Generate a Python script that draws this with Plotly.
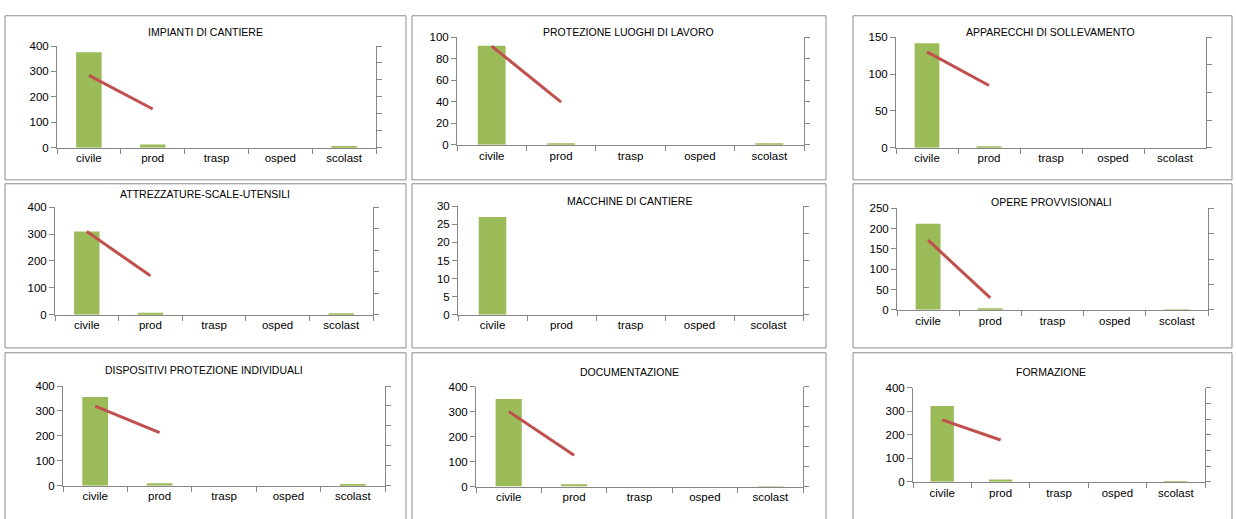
import plotly.graph_objects as go

W, H = 1236, 519

categories = ["civile", "prod", "trasp", "osped", "scolast"]

titles = [
    "IMPIANTI DI CANTIERE",
    "PROTEZIONE LUOGHI DI LAVORO",
    "APPARECCHI DI SOLLEVAMENTO",
    "ATTREZZATURE-SCALE-UTENSILI",
    "MACCHINE DI CANTIERE",
    "OPERE PROVVISIONALI",
    "DISPOSITIVI PROTEZIONE INDIVIDUALI",
    "DOCUMENTAZIONE",
    "FORMAZIONE",
]

# bar values (primary axis)
impianti = [376, 12, 0, 0, 3]
protezione = [92, 1, 0, 0, 1]
apparecchi = [142, 2, 0, 0, 0]
attrezzature = [310, 7, 0, 0, 3]
macchine = [27, 0, 0, 0, 0]
opere = [212, 3, 0, 0, 1]
dispositivi = [356, 10, 0, 0, 4]
documentazione = [352, 10, 0, 0, 2]
formazione = [323, 10, 0, 0, 2]

# red line values (secondary axis, unlabeled)
line_impianti = [4.27, 2.28]
line_protezione = [4.59, 1.98]
line_apparecchi = [3.47, 2.25]
line_attrezzature = [3.87, 1.81]
line_macchine = [None, None]
line_opere = [2.74, 0.47]
line_dispositivi = [3.99, 2.66]
line_documentazione = [3.77, 1.57]
line_formazione = [3.96, 2.67]

bars = [impianti, protezione, apparecchi, attrezzature, macchine,
        opere, dispositivi, documentazione, formazione]
lines = [line_impianti, line_protezione, line_apparecchi, line_attrezzature,
         line_macchine, line_opere, line_dispositivi, line_documentazione,
         line_formazione]

# primary axis max / step, secondary axis number of intervals
y_max = [400, 100, 150, 400, 30, 250, 400, 400, 400]
y_step = [100, 20, 50, 100, 5, 50, 100, 100, 100]
y2_max = [6, 5, 4, 5, 4, 4, 5, 5, 6]

# layout geometry in pixels: plot area (x0, x1, ytop, ybottom), box, title
plot_px = [
    (57, 376, 41, 145), (457, 804, 32, 142), (896, 1206, 32, 145),
    (55, 373, 206, 316), (458, 803, 205, 316), (897, 1208, 207, 311),
    (63, 385, 389, 491), (476, 803, 390, 492), (913, 1205, 391, 487),
]
box_px = [
    (5, 406, 10, 178), (412, 826, 10, 178), (853, 1232, 10, 178),
    (5, 406, 182, 350), (412, 826, 182, 350), (853, 1232, 182, 350),
    (5, 406, 355, 530), (412, 826, 355, 530), (853, 1232, 355, 530),
]
title_px = [
    (205, 27), (628, 27), (1050, 27),
    (205, 192), (629, 200), (1051, 201),
    (204, 373), (629, 375), (1051, 375),
]

GREEN = "#9BBB59"
RED = "#C0504D"
AXIS = "#868686"
FONT = "Liberation Sans"

fig = go.Figure()
layout = {}
shapes = []
annotations = []

for i in range(9):
    n = i + 1
    xa = "x" if n == 1 else f"x{n}"
    ya = "y" if n == 1 else f"y{n}"
    ya2 = f"y{n + 9}"

    fig.add_trace(go.Bar(
        x=categories, y=bars[i], xaxis=xa, yaxis=ya,
        marker=dict(color=GREEN, line=dict(width=0)),
        showlegend=False, hoverinfo="x+y",
    ))
    fig.add_trace(go.Scatter(
        x=categories[:2], y=lines[i], xaxis=xa, yaxis=ya2,
        mode="lines", line=dict(color=RED, width=3),
        showlegend=False, connectgaps=False,
    ))

    x0, x1, yt, yb = plot_px[i]
    xdom = [x0 / W, x1 / W]
    ydom = [1 - yb / H, 1 - yt / H]

    layout[f"xaxis{n if n > 1 else ''}"] = dict(
        domain=xdom, anchor=ya, type="category", range=[-0.5, 4.5],
        showline=True, linecolor=AXIS, linewidth=1,
        ticks="outside", ticklen=5, tickcolor=AXIS, tickson="boundaries",
        showgrid=False, zeroline=False,
        tickfont=dict(family=FONT, size=11.5, color="#000000"),
        fixedrange=True,
    )
    layout[f"yaxis{n if n > 1 else ''}"] = dict(
        domain=ydom, anchor=xa, range=[0, y_max[i]], dtick=y_step[i],
        tick0=0, showline=True, linecolor=AXIS, linewidth=1,
        ticks="outside", ticklen=5, tickcolor=AXIS,
        showgrid=False, zeroline=False,
        tickfont=dict(family=FONT, size=11.5, color="#000000"),
        fixedrange=True,
    )
    layout[f"yaxis{n + 9}"] = dict(
        overlaying=ya, side="right", anchor=xa,
        range=[0, y2_max[i]], dtick=1, tick0=0,
        showline=True, linecolor=AXIS, linewidth=1,
        ticks="outside", ticklen=5, tickcolor=AXIS,
        showticklabels=False, showgrid=False, zeroline=False,
        fixedrange=True,
    )

    bx0, bx1, by0, by1 = box_px[i]
    shapes.append(dict(
        type="rect", xref="paper", yref="paper",
        x0=bx0 / W, x1=bx1 / W, y0=1 - by1 / H, y1=1 - by0 / H,
        line=dict(color="#8C8C8C", width=1), fillcolor="rgba(0,0,0,0)",
        layer="below",
    ))

    tx, ty = title_px[i]
    annotations.append(dict(
        text=titles[i], xref="paper", yref="paper",
        x=tx / W, y=1 - ty / H, xanchor="center", yanchor="middle",
        showarrow=False, font=dict(family=FONT, size=10.5, color="#000000"),
    ))

fig.update_layout(
    width=W, height=H, autosize=False,
    margin=dict(l=0, r=0, t=0, b=0),
    paper_bgcolor="white", plot_bgcolor="white",
    bargap=0.6, showlegend=False,
    shapes=shapes, annotations=annotations,
    **layout,
)

# drop the default page margin so the figure sits at the window origin
fig.write_html(
    "out.html",
    config={"displayModeBar": False},
    post_script="document.body.style.margin='0';document.body.style.overflow='hidden';",
)
